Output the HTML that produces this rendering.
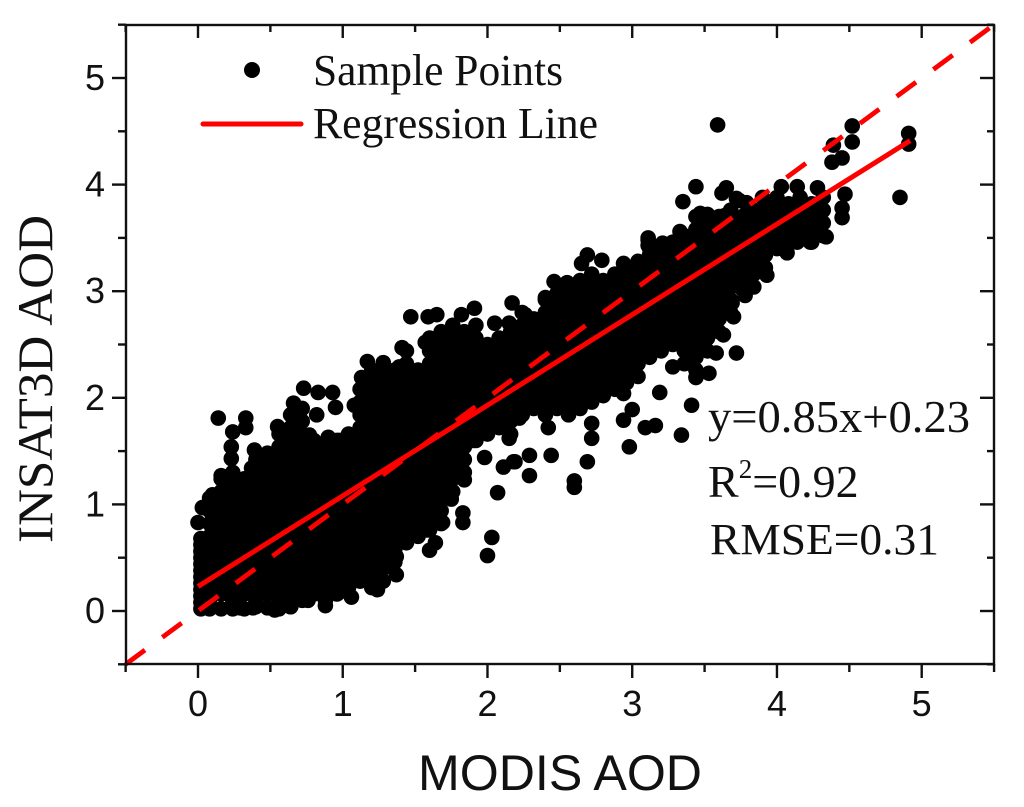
<!DOCTYPE html>
<html lang="en">
<head>
<meta charset="utf-8">
<title>INSAT3D AOD vs MODIS AOD</title>
<style>
html,body{margin:0;padding:0;background:#fff;}
svg{display:block;}
.tick{font-family:"Liberation Sans",sans-serif;font-size:36px;fill:#111;}
.ser{font-family:"Liberation Serif",serif;fill:#111;}
</style>
</head>
<body>
<svg id="chart" width="1024" height="807" viewBox="0 0 1024 807" xmlns="http://www.w3.org/2000/svg">
  <g id="points"></g>
  <line id="identity" stroke="#ff0000" stroke-width="4.8" stroke-dasharray="24 21.6"></line>
  <line id="regression" stroke="#ff0000" stroke-width="5"></line>
  <g id="axes"></g>
  <text class="ser" x="0" y="0" font-size="50" text-anchor="middle" transform="translate(52,379) rotate(-90)" textLength="328" lengthAdjust="spacingAndGlyphs">INSAT3D AOD</text>
  <text class="tick" x="560" y="790" style="font-size:50px" text-anchor="middle" textLength="284" lengthAdjust="spacingAndGlyphs">MODIS AOD</text>
  <g>
    <circle cx="252" cy="70" r="8" fill="#000"></circle>
    <text class="ser" x="313" y="85" font-size="44" textLength="250" lengthAdjust="spacingAndGlyphs">Sample Points</text>
    <line x1="203" y1="124" x2="301" y2="124" stroke="#ff0000" stroke-width="5" stroke-linecap="round"></line>
    <text class="ser" x="313" y="138" font-size="44" textLength="285" lengthAdjust="spacingAndGlyphs">Regression Line</text>
  </g>
  <text class="ser" x="708" y="432" font-size="46" textLength="262" lengthAdjust="spacingAndGlyphs">y=0.85x+0.23</text>
  <text class="ser" x="708" y="497" font-size="46">R<tspan dy="-19" font-size="27">2</tspan><tspan dy="19">=0.92</tspan></text>
  <text class="ser" x="710" y="554" font-size="44" textLength="229" lengthAdjust="spacingAndGlyphs">RMSE=0.31</text>
</svg>
<script>
const xTickLabels = [0, 1, 2, 3, 4, 5];
const yTickLabels = [0, 1, 2, 3, 4, 5];
const xMinorTicks = [-0.5, 0.5, 1.5, 2.5, 3.5, 4.5, 5.5];
const yMinorTicks = [-0.5, 0.5, 1.5, 2.5, 3.5, 4.5, 5.5];
const regressionSlope = 0.85;
const regressionIntercept = 0.23;
const regressionRange = [0, 4.92];
const identityRange = [-0.5, 5.5];

const cloudModis = [0.02,0.08,0.16,0.24,0.32,0.4,0.48,0.56,0.64,0.72,0.8,0.88,0.96,1.04,1.12,1.2,1.28,1.36,1.44,1.52,1.6,1.68,1.76,1.84,1.92,2,2.08,2.16,2.24,2.32,2.4,2.48,2.56,2.64,2.72,2.8,2.88,2.96,3.04,3.12,3.2,3.28,3.36,3.44,3.52,3.6,3.68,3.76,3.84,3.92,4,4.08,4.16,4.24,4.32];

const cloudInsat = [
[0.02,0.08,0.14,0.20,0.26,0.32,0.38,0.44,0.50,0.56,0.62,0.68],
[0.02,0.10,0.22,0.34,0.46,0.58,0.70,0.82,0.94,1.06],
[0.02,0.16,0.28,0.40,0.52,0.64,0.76,0.88,1.00,1.12,1.24],
[0.02,0.10,0.22,0.34,0.46,0.58,0.70,0.82,0.94,1.06,1.18,1.30],
[0.02,0.16,0.28,0.40,0.52,0.64,0.76,0.88,1.00,1.12,1.24],
[0.04,0.10,0.22,0.34,0.46,0.58,0.70,0.82,0.94,1.06,1.18,1.30,1.42],
[0.03,0.16,0.28,0.40,0.52,0.64,0.76,0.88,1.00,1.12,1.24,1.36,1.48],
[0.02,0.10,0.22,0.34,0.46,0.58,0.70,0.82,0.94,1.06,1.18,1.30,1.42,1.54,1.66],
[0.04,0.16,0.28,0.40,0.52,0.64,0.76,0.88,1.00,1.12,1.24,1.36,1.48,1.60,1.72,1.84],
[0.10,0.22,0.34,0.46,0.58,0.70,0.82,0.94,1.06,1.18,1.30,1.42,1.54,1.66,1.78,1.90],
[0.16,0.28,0.40,0.52,0.64,0.76,0.88,1.00,1.12,1.24,1.36,1.48,1.60],
[0.10,0.22,0.34,0.46,0.58,0.70,0.82,0.94,1.06,1.18,1.30,1.42,1.54],
[0.16,0.28,0.40,0.52,0.64,0.76,0.88,1.00,1.12,1.24,1.36,1.48,1.60],
[0.22,0.34,0.46,0.58,0.70,0.82,0.94,1.06,1.18,1.30,1.42,1.54,1.66],
[0.28,0.40,0.52,0.64,0.76,0.88,1.00,1.12,1.24,1.36,1.48,1.60,1.72,1.84,1.96,2.08],
[0.22,0.34,0.46,0.58,0.70,0.82,0.94,1.06,1.18,1.30,1.42,1.54,1.66,1.78,1.90,2.02,2.14,2.26],
[0.28,0.40,0.52,0.64,0.76,0.88,1.00,1.12,1.24,1.36,1.48,1.60,1.72,1.84,1.96,2.08,2.20,2.32],
[0.46,0.58,0.70,0.82,0.94,1.06,1.18,1.30,1.42,1.54,1.66,1.78,1.90,2.02,2.14,2.26],
[0.64,0.76,0.88,1.00,1.12,1.24,1.36,1.48,1.60,1.72,1.84,1.96,2.08,2.20,2.32,2.44],
[0.70,0.82,0.94,1.06,1.18,1.30,1.42,1.54,1.66,1.78,1.90,2.02,2.14,2.26],
[0.76,0.88,1.00,1.12,1.24,1.36,1.48,1.60,1.72,1.84,1.96,2.08,2.20,2.32,2.44,2.56],
[0.82,0.94,1.06,1.18,1.30,1.42,1.54,1.66,1.78,1.90,2.02,2.14,2.26,2.38,2.50,2.62],
[1.12,1.24,1.36,1.48,1.60,1.72,1.84,1.96,2.08,2.20,2.32,2.44,2.56,2.68],
[1.30,1.42,1.54,1.66,1.78,1.90,2.02,2.14,2.26,2.38,2.50,2.62],
[1.60,1.72,1.84,1.96,2.08,2.20,2.32,2.44,2.56,2.68],
[1.66,1.78,1.90,2.02,2.14,2.26,2.38,2.50],
[1.72,1.84,1.96,2.08,2.20,2.32,2.44,2.56],
[1.66,1.78,1.90,2.02,2.14,2.26,2.38,2.50,2.62],
[1.84,1.96,2.08,2.20,2.32,2.44,2.56,2.68],
[1.90,2.02,2.14,2.26,2.38,2.50,2.62,2.74],
[1.84,1.96,2.08,2.20,2.32,2.44,2.56,2.68,2.80,2.92],
[1.90,2.02,2.14,2.26,2.38,2.50,2.62,2.74,2.86,2.98],
[1.84,1.96,2.08,2.20,2.32,2.44,2.56,2.68,2.80,2.92,3.04],
[1.90,2.02,2.14,2.26,2.38,2.50,2.62,2.74,2.86,2.98,3.10],
[1.96,2.08,2.20,2.32,2.44,2.56,2.68,2.80,2.92,3.04,3.16],
[2.02,2.14,2.26,2.38,2.50,2.62,2.74,2.86,2.98,3.10],
[2.08,2.20,2.32,2.44,2.56,2.68,2.80,2.92,3.04,3.16],
[2.14,2.26,2.38,2.50,2.62,2.74,2.86,2.98,3.10,3.22],
[2.20,2.32,2.44,2.56,2.68,2.80,2.92,3.04,3.16,3.28],
[2.38,2.50,2.62,2.74,2.86,2.98,3.10,3.22,3.34,3.40],
[2.44,2.56,2.68,2.80,2.92,3.04,3.16,3.28,3.40],
[2.50,2.62,2.74,2.86,2.98,3.10,3.22,3.34,3.46],
[2.32,2.44,2.56,2.68,2.80,2.92,3.04,3.16,3.28,3.40,3.52],
[2.26,2.38,2.50,2.62,2.74,2.86,2.98,3.10,3.22,3.34,3.46,3.58,3.70],
[2.44,2.56,2.68,2.80,2.92,3.04,3.16,3.28,3.40,3.52,3.64,3.72],
[2.62,2.74,2.86,2.98,3.10,3.22,3.34,3.46,3.58,3.70],
[2.80,2.92,3.04,3.16,3.28,3.40,3.52,3.64,3.76],
[3.02,3.10,3.22,3.34,3.46,3.58,3.70],
[3.04,3.16,3.28,3.40,3.52,3.64,3.76],
[3.22,3.34,3.46,3.58,3.70,3.82],
[3.40,3.52,3.64,3.76,3.88],
[3.46,3.58,3.70,3.82],
[3.52,3.64,3.76,3.88],
[3.46,3.58,3.70,3.82],
[3.52,3.64,3.76,3.88]
];

const scatterModis = [0.00,0.03,0.14,0.24,0.33,0.33,0.23,0.23,0.16,0.10,0.39,0.37,0.55,0.66,0.73,0.83,0.93,0.95,0.82,0.77,0.90,0.98,1.08,1.13,1.17,1.28,1.41,1.57,1.39,0.29,0.38,0.53,0.64,0.88,0.76,1.06,0.97,1.24,1.37,1.37,1.30,1.60,1.64,1.69,1.58,2.00,2.03,2.07,1.83,1.83,2.11,2.19,1.98,1.84,1.69,2.15,3.59,4.52,4.52,4.39,4.38,4.45,4.91,4.91,4.85,4.47,4.45,4.45,4.03,4.14,4.28,3.90,3.65,3.44,3.35,3.72,3.79,3.47,3.64,3.33,3.11,3.21,2.94,2.79,2.69,2.65,2.46,2.40,2.17,2.24,2.05,1.47,1.59,1.65,1.91,1.82,4.34,4.23,4.14,4.05,4.07,3.93,3.78,3.69,3.70,3.63,3.72,3.58,3.53,3.44,3.41,3.34,3.28,3.19,2.98,3.09,3.16,2.94,3.00,2.94,2.72,2.72,2.69,2.44,2.29,2.29,2.18,2.42,2.60,2.60,2.22,1.90,1.75,3.11,3.11,3.62,3.74,3.80,2.55,2.26,2.15];
const scatterInsat = [0.83,0.97,1.81,1.68,1.81,1.72,1.54,1.43,1.27,1.09,1.51,1.34,1.73,1.95,2.09,2.05,2.05,1.91,1.84,1.65,1.63,1.60,1.93,2.19,2.34,2.33,2.47,2.52,2.29,0.03,0.03,0.01,0.04,0.05,0.10,0.13,0.17,0.20,0.34,0.51,0.45,0.57,0.64,0.83,0.76,0.52,0.69,1.11,0.92,0.83,1.35,1.40,1.44,1.23,1.18,1.62,4.56,4.55,4.40,4.37,4.21,4.25,4.48,4.38,3.88,3.91,3.78,3.69,3.98,3.98,3.97,3.88,3.97,3.98,3.84,3.87,3.83,3.73,3.71,3.56,3.48,3.45,3.26,3.29,3.34,3.26,3.09,2.94,2.89,2.80,2.70,2.76,2.76,2.78,2.84,2.78,3.51,3.46,3.46,3.54,3.36,3.15,2.96,2.89,2.76,2.59,2.42,2.42,2.23,2.19,1.93,1.65,2.29,2.05,1.54,1.72,1.74,1.79,1.89,2.04,1.62,1.76,1.40,1.46,1.46,1.27,1.40,1.72,1.22,1.16,1.81,1.60,1.05,3.50,3.43,3.92,3.85,3.78,3.08,2.78,2.70];

const NS = 'http://www.w3.org/2000/svg';
const plotLeft = 126, plotRight = 994, plotTop = 25, plotBottom = 664;
function xScale(v) { return 198 + (v - 0) * (921.7 - 198) / 5; }
function yScale(v) { return 611 - (v - 0) * (611 - 78) / 5; }
function mk(tag, attrs) {
  const el = document.createElementNS(NS, tag);
  for (const k in attrs) el.setAttribute(k, attrs[k]);
  return el;
}

const pointLayer = document.getElementById('points');
function addPoint(mx, my) {
  const c = mk('circle', { cx: xScale(mx), cy: yScale(my), r: 7.8, fill: '#000' });
  
  
  pointLayer.appendChild(c);
}
cloudModis.forEach(function (mx, i) {
  cloudInsat[i].forEach(function (my) { addPoint(mx, my); });
});
scatterModis.forEach(function (mx, i) { addPoint(mx, scatterInsat[i]); });

const idLine = document.getElementById('identity');
idLine.setAttribute('x1', xScale(identityRange[0]));
idLine.setAttribute('y1', yScale(identityRange[0]));
idLine.setAttribute('x2', xScale(identityRange[1]));
idLine.setAttribute('y2', yScale(identityRange[1]));
const regLine = document.getElementById('regression');
regLine.setAttribute('x1', xScale(regressionRange[0]));
regLine.setAttribute('y1', yScale(regressionSlope * regressionRange[0] + regressionIntercept));
regLine.setAttribute('x2', xScale(regressionRange[1]));
regLine.setAttribute('y2', yScale(regressionSlope * regressionRange[1] + regressionIntercept));

const axes = document.getElementById('axes');
const frame = mk('rect', { x: plotLeft, y: plotTop, width: plotRight - plotLeft, height: plotBottom - plotTop, fill: 'none', stroke: '#111', 'stroke-width': 2.4 });


axes.appendChild(frame);

function tickLine(x1, y1, x2, y2, name) {
  const t = mk('line', { x1: x1, y1: y1, x2: x2, y2: y2, stroke: '#111', 'stroke-width': 2.4 });
  
  
  axes.appendChild(t);
}
xTickLabels.forEach(function (v) {
  const x = xScale(v);
  tickLine(x, plotBottom, x, plotBottom + 14, 'x-major-tick');
  tickLine(x, plotTop, x, plotTop + 13, 'x-top-tick');
  const t = mk('text', { x: x, y: 716, 'text-anchor': 'middle', class: 'tick' });
  t.textContent = v;
  
  
  axes.appendChild(t);
});
xMinorTicks.forEach(function (v) {
  const x = xScale(v);
  tickLine(x, plotBottom, x, plotBottom + 8, 'x-minor-tick');
  tickLine(x, plotTop, x, plotTop + 7, 'x-top-minor-tick');
});
yTickLabels.forEach(function (v) {
  const y = yScale(v);
  tickLine(plotLeft - 14, y, plotLeft, y, 'y-major-tick');
  tickLine(plotRight - 14, y, plotRight, y, 'y-right-tick');
  const t = mk('text', { x: 105, y: y + 12, 'text-anchor': 'end', class: 'tick' });
  t.textContent = v;
  
  
  axes.appendChild(t);
});
yMinorTicks.forEach(function (v) {
  const y = yScale(v);
  tickLine(plotLeft - 8, y, plotLeft, y, 'y-minor-tick');
  tickLine(plotRight - 7, y, plotRight, y, 'y-right-minor-tick');
});
</script>
</body>
</html>
